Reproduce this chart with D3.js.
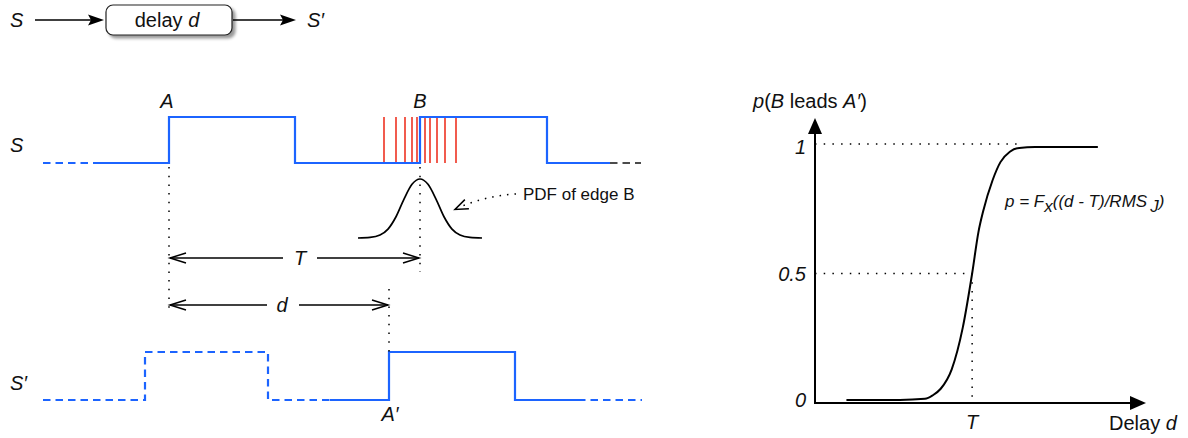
<!DOCTYPE html>
<html><head><meta charset="utf-8">
<script src="https://cdn.jsdelivr.net/npm/d3@7"></script>
<style>
html,body{margin:0;padding:0;background:#fff;}
svg{display:block;font-family:"Liberation Sans",Arial,Helvetica,sans-serif;}
</style></head><body>
<svg id="c" width="1188" height="438"></svg>
<script>
// ================= DATA =================
// Timing diagram (arbitrary time units)
const edgeA = 126, edgeB = 377, edgeA2 = 346;
const periodT = 251, delayD = 220;
const sLeadT = [0, 57],   sLeadV = [0, 0];
const sMainT = [57, 126, 126, 252, 252, 377, 377, 504, 504, 567];
const sMainV = [0, 0, 1, 1, 0, 0, 1, 1, 0, 0];
const sTailT = [567, 598], sTailV = [0, 0];
const jitterT = [341, 353, 362, 369, 374, 382, 387, 394, 402, 413];
const pdfOffset = [-62, -50, -40, -32, -24, -16, -8, 0, 8, 16, 24, 32, 40, 50, 62];
const pdfValue  = [0, 0.01, 0.05, 0.15, 0.36, 0.66, 0.91, 1, 0.91, 0.66, 0.36, 0.15, 0.05, 0.01, 0];
const spGhostT = [0, 102, 102, 225, 225, 287], spGhostV = [0, 0, 1, 1, 0, 0];
const spMainT  = [287, 346, 346, 472, 472, 535], spMainV = [0, 0, 1, 1, 0, 0];
const spTailT  = [535, 599], spTailV = [0, 0];
// Probability curve p(B leads A') vs delay d
const curveD = [1.0, 2.7, 3.5, 3.75, 4.0, 4.35, 4.7, 5.0, 5.2, 5.35, 5.65, 5.9, 6.2, 6.5, 7.0, 9.0];
const curveP = [0.012, 0.012, 0.016, 0.03, 0.055, 0.13, 0.29, 0.5, 0.66, 0.74, 0.86, 0.93, 0.97, 0.985, 0.988, 0.988];
const yTickValues = [0, 0.5, 1];
const yTickLabels = ["0", "0.5", "1"];
const tValue = 5;        // d = T
const oneGuideEnd = 6.5; // where the p=1 guide meets the curve

// ================= DRAW =================
const svg = d3.select("#c");
const BLUE = "#1c64ff", RED = "#ee3322";
const defs = svg.append("defs");
const f = defs.append("filter").attr("id","sh").attr("x","-10%").attr("y","-20%").attr("width","130%").attr("height","160%");
f.append("feDropShadow").attr("dx",3).attr("dy",3).attr("stdDeviation",1.6).attr("flood-color","#000").attr("flood-opacity",0.4);

function label(x, y, parts, opts = {}) {
  const t = svg.append("text").attr("x", x).attr("y", y)
    .attr("font-size", opts.size || 20).attr("fill", "#111")
    .attr("text-anchor", opts.anchor || "start")
    .attr("dominant-baseline", "central");
  parts.forEach(p => {
    const s = t.append("tspan").text(p.t);
    if (p.i) s.attr("font-style", "italic");
    if (p.dy) s.attr("dy", p.dy);
    if (p.dx) s.attr("dx", p.dx);
    if (p.size) s.attr("font-size", p.size);
  });
  return t;
}
function filledHead(tip, dir, len, hw, notch) {
  const [x, y] = tip; let pts; const n = notch || 0;
  if (dir === "r") pts = n ? [[x, y], [x - len, y - hw], [x - len + n, y], [x - len, y + hw]] : [[x, y], [x - len, y - hw], [x - len, y + hw]];
  if (dir === "u") pts = [[x, y], [x - hw, y + len], [x + hw, y + len]];
  svg.append("polygon").attr("points", pts.map(p => p.join(",")).join(" ")).attr("fill", "#000");
}
function openHead(tip, angle, len, hw) {
  const [x, y] = tip, c = Math.cos(angle), s = Math.sin(angle);
  const bx = x - len * c, by = y - len * s;
  const p1 = [bx - hw * s, by + hw * c], p2 = [bx + hw * s, by - hw * c];
  svg.append("path").attr("d", `M${p1}L${x},${y}L${p2}`).attr("fill", "none")
    .attr("stroke", "#000").attr("stroke-width", 1.5);
}

// ---- top block diagram ----
label(10, 20, [{t: "S", i: 1}]);
svg.append("line").attr("x1", 35).attr("x2", 92).attr("y1", 20).attr("y2", 20).attr("stroke", "#000").attr("stroke-width", 1.6);
filledHead([104, 20], "r", 16, 5.5, 3);
svg.append("rect").attr("x", 106).attr("y", 5).attr("width", 126).attr("height", 30).attr("rx", 7)
  .attr("fill", "#fff").attr("stroke", "#222").attr("stroke-width", 1.2).attr("filter", "url(#sh)");
label(167, 20, [{t: "delay "}, {t: "d", i: 1}], {anchor: "middle"});
svg.append("line").attr("x1", 233).attr("x2", 284).attr("y1", 20).attr("y2", 20).attr("stroke", "#000").attr("stroke-width", 1.6);
filledHead([296, 20], "r", 16, 5.5, 3);
label(307, 20, [{t: "S\u2032", i: 1}]);

// ---- timing diagram ----
const tx = d3.scaleLinear().domain([0, 600]).range([43, 643]);
const yS = d3.scaleLinear().domain([0, 1]).range([163, 117]);
const ySp = d3.scaleLinear().domain([0, 1]).range([400, 352]);
function wave(T, V, ys, color, dash, w) {
  const line = d3.line().x((d, i) => tx(T[i])).y((d, i) => ys(V[i]));
  const p = svg.append("path").attr("d", line(T)).attr("fill", "none")
    .attr("stroke", color).attr("stroke-width", w || 2.2).attr("stroke-linejoin", "miter");
  if (dash) p.attr("stroke-dasharray", dash);
}
// red jitter lines
svg.selectAll("line.jit").data(jitterT).enter().append("line").attr("class", "jit")
  .attr("x1", d => tx(d)).attr("x2", d => tx(d)).attr("y1", yS(1)).attr("y2", yS(0))
  .attr("stroke", RED).attr("stroke-width", 1.6);
wave(sLeadT, sLeadV, yS, BLUE, "7.5,5");
wave(sMainT, sMainV, yS, BLUE);
wave(sTailT, sTailV, yS, "#111", "7.5,5", 1.6);
wave(spGhostT, spGhostV, ySp, BLUE, "7.5,5");
wave(spMainT, spMainV, ySp, BLUE);
wave(spTailT, spTailV, ySp, BLUE, "7.5,5");

// dotted verticals
function dotted(x1, y1, x2, y2, sp) {
  svg.append("line").attr("x1", x1).attr("y1", y1).attr("x2", x2).attr("y2", y2)
    .attr("stroke", "#000").attr("stroke-width", 1.5).attr("stroke-dasharray", sp || "1.5,7.2");
}
dotted(tx(edgeA), 167, tx(edgeA), 312);
dotted(tx(edgeB), 167, tx(edgeB), 272);
dotted(tx(edgeA2), 289, tx(edgeA2), 352);

// PDF of edge B
const pdfY = d3.scaleLinear().domain([0, 1]).range([238, 179]);
const pdfLine = d3.line().x((d, i) => tx(edgeB + pdfOffset[i])).y((d, i) => pdfY(pdfValue[i])).curve(d3.curveMonotoneX);
svg.append("path").attr("d", pdfLine(pdfOffset)).attr("fill", "none").attr("stroke", "#000").attr("stroke-width", 1.7);
svg.append("path").attr("d", "M516,194 Q484,196 458,208").attr("fill", "none").attr("stroke", "#000")
  .attr("stroke-width", 1.5).attr("stroke-dasharray", "1.5,6");
openHead([455, 209.5], Math.atan2(12, -27), 13, 5);
label(523, 194, [{t: "PDF of edge B"}], {size: 17});

// T and d dimension arrows
function dimArrow(x1, x2, y, lab, lx, g1, g2) {
  svg.append("line").attr("x1", x1 + 1).attr("x2", g1).attr("y1", y).attr("y2", y).attr("stroke", "#000").attr("stroke-width", 1.5);
  svg.append("line").attr("x1", g2).attr("x2", x2 - 1).attr("y1", y).attr("y2", y).attr("stroke", "#000").attr("stroke-width", 1.5);
  openHead([x1 + 1, y], Math.PI, 16, 5);
  openHead([x2 - 1, y], 0, 16, 5);
  label(lx, y, [{t: lab, i: 1}], {anchor: "middle"});
}
dimArrow(tx(edgeA), tx(edgeA + periodT), 258, "T", 300, 283, 317);
dimArrow(tx(edgeA), tx(edgeA + delayD), 305, "d", 282, 267, 299);

// labels
label(10, 145, [{t: "S", i: 1}]);
label(167, 101, [{t: "A", i: 1}], {anchor: "middle"});
label(tx(edgeB), 101, [{t: "B", i: 1}], {anchor: "middle"});
label(10, 383, [{t: "S\u2032", i: 1}]);
label(tx(edgeA2) + 1, 414, [{t: "A\u2032", i: 1}], {anchor: "middle"});

// ---- right chart ----
const x = d3.scaleLinear().domain([0, 10.5]).range([815, 1145]);
const y = d3.scaleLinear().domain([0, 1]).range([403, 144]);
// guides
dotted(x(0), y(1), x(oneGuideEnd), y(1));
dotted(x(0), y(0.5), x(tValue), y(0.5));
dotted(x(tValue), y(0.5), x(tValue), y(0));
// axes
svg.append("line").attr("x1", x(0)).attr("x2", x(0)).attr("y1", y(0)).attr("y2", 132).attr("stroke", "#000").attr("stroke-width", 2);
filledHead([x(0), 118], "u", 16, 7);
svg.append("line").attr("x1", x(0) - 1).attr("x2", 1131).attr("y1", y(0)).attr("y2", y(0)).attr("stroke", "#000").attr("stroke-width", 2);
filledHead([1146, y(0)], "r", 16, 7);
// curve
const cLine = d3.line().x((d, i) => x(curveD[i])).y((d, i) => y(curveP[i])).curve(d3.curveMonotoneX);
svg.append("path").attr("d", cLine(curveD)).attr("fill", "none").attr("stroke", "#000").attr("stroke-width", 2);
// tick labels
yTickValues.forEach((v, i) => label(806, y(v) + (v === 1 ? 3 : v === 0 ? -3 : 0), [{t: yTickLabels[i], i: 1}], {anchor: "end"}));
label(x(tValue), 422, [{t: "T", i: 1}], {anchor: "middle"});
label(1109, 423, [{t: "Delay "}, {t: "d", i: 1}]);
label(753, 101, [{t: "p", i: 1}, {t: "("}, {t: "B", i: 1}, {t: " leads "}, {t: "A\u2032", i: 1}, {t: ")"}]);
label(1005, 201, [{t: "p = F", i: 1}, {t: "x", i: 1, dy: 5}, {t: "((d - T)/RMS", i: 1, dy: -5}, {t: "J", i: 1, dy: 5, dx: 3}, {t: ")", i: 1, dy: -5}], {size: 17});
</script>
</body></html>
